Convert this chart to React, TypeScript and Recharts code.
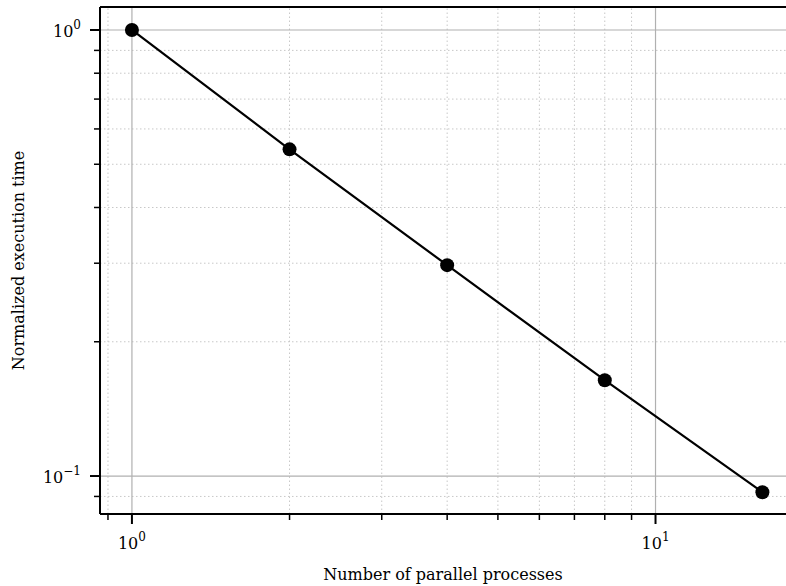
import {
  CartesianGrid,
  Line,
  LineChart,
  ReferenceLine,
  XAxis,
  YAxis,
} from "recharts";

const processes = [1, 2, 4, 8, 16];
const normTime = [1.0, 0.54, 0.297, 0.164, 0.092];

const xMajor = [1, 10];
const xMinor = [0.9, 2, 3, 4, 5, 6, 7, 8, 9];
const yMajor = [0.1, 1];
const yMinor = [0.09, 0.2, 0.3, 0.4, 0.5, 0.6, 0.7, 0.8, 0.9];

const data = processes.map((p, i) => ({ p, t: normTime[i] }));

const FONT = "'DejaVu Serif', serif";

const expLabel = (v: number) => Math.round(Math.log10(v));

function XTick(props: any) {
  const { x, y, payload } = props;
  const v = payload.value;
  const major = xMajor.includes(v);
  return (
    <g>
      <line x1={x} x2={x} y1={y} y2={y + (major ? 10 : 6)} stroke="#000" strokeWidth={major ? 2 : 1.5} />
      {major && (
        <text x={x} y={y + 35} textAnchor="middle" fontFamily={FONT} fontSize={16} fill="#000">
          10
          <tspan dy={-8} fontSize={12}>{expLabel(v)}</tspan>
        </text>
      )}
    </g>
  );
}

function YTick(props: any) {
  const { x, y, payload } = props;
  const v = payload.value;
  const major = yMajor.includes(v);
  const e = expLabel(v);
  return (
    <g>
      <line x1={x} x2={x - (major ? 10 : 6)} y1={y} y2={y} stroke="#000" strokeWidth={major ? 2 : 1.5} />
      {major && (
        <text x={x - 19} y={y + 7} textAnchor="end" fontFamily={FONT} fontSize={16} fill="#000">
          10
          <tspan dy={-8} fontSize={12}>{e === 0 ? "0" : "\u2212" + Math.abs(e)}</tspan>
        </text>
      )}
    </g>
  );
}

export default function App() {
  return (
    <div style={{ position: "absolute", left: 0, top: 0, background: "#fff" }}>
      <LineChart
        width={786}
        height={586}
        data={data}
        margin={{ top: 7, right: 0, left: 0, bottom: 0 }}
      >
        <CartesianGrid stroke="none" />
        {xMinor.map((v) => (
          <ReferenceLine key={"xm" + v} x={v} stroke="#c8c8c8" strokeDasharray="1.5 2.5" strokeWidth={1} />
        ))}
        {yMinor.map((v) => (
          <ReferenceLine key={"ym" + v} y={v} stroke="#c8c8c8" strokeDasharray="1.5 2.5" strokeWidth={1} />
        ))}
        {xMajor.map((v) => (
          <ReferenceLine key={"xM" + v} x={v} stroke="#b0b0b0" strokeWidth={1.2} />
        ))}
        {yMajor.map((v) => (
          <ReferenceLine key={"yM" + v} y={v} stroke="#b0b0b0" strokeWidth={1.2} />
        ))}
        <XAxis
          dataKey="p"
          type="number"
          scale="log"
          domain={[0.869, 17.75]}
          allowDataOverflow
          ticks={[...xMinor, ...xMajor]}
          interval={0}
          height={72}
          tickSize={0}
          tickMargin={0}
          axisLine={{ stroke: "#000", strokeWidth: 2 }}
          tickLine={false}
          tick={<XTick />}
          label={{
            value: "Number of parallel processes",
            position: "insideBottom",
            offset: 0,
            dy: -6,
            style: { fontFamily: FONT, fontSize: 16, fill: "#000" },
          }}
        />
        <YAxis
          dataKey="t"
          type="number"
          scale="log"
          domain={[0.0822, 1.126]}
          allowDataOverflow
          ticks={[...yMinor, ...yMajor]}
          interval={0}
          width={100}
          tickSize={0}
          tickMargin={0}
          axisLine={{ stroke: "#000", strokeWidth: 2 }}
          tickLine={false}
          tick={<YTick />}
          label={{
            value: "Normalized execution time",
            angle: -90,
            position: "insideLeft",
            offset: 0,
            dx: 18,
            style: { fontFamily: FONT, fontSize: 16, fill: "#000", textAnchor: "middle" },
          }}
        />
        <ReferenceLine y={1.126} stroke="#000" strokeWidth={2} ifOverflow="extendDomain" />
        <Line
          dataKey="t"
          stroke="#000"
          strokeWidth={2.2}
          dot={{ r: 7, fill: "#000", stroke: "#000", strokeWidth: 0 }}
          isAnimationActive={false}
        />
      </LineChart>
    </div>
  );
}
